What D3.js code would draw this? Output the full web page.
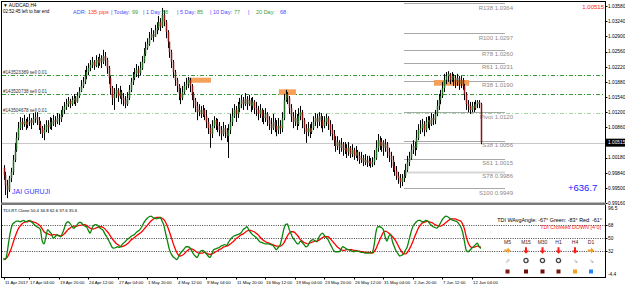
<!DOCTYPE html>
<meta charset="utf-8">
<title>AUDCAD,H4</title>
<style>

body {
  margin: 0;
  background: #fff;
}

svg {
  display: block;
  font-family: "Liberation Sans", Arial, sans-serif;
}

</style>
<body>
<script src="https://d3js.org/d3.v7.min.js"></script>
<script>

// ---- data ----
var firstOpen = 0.9995;

var closes = [
  0.9979, 0.9956, 0.9945, 0.9972, 0.9986, 1.0013, 1.0035, 1.0062, 1.0084, 1.0098,
  1.0093, 1.0100, 1.0091, 1.0098, 1.0102, 1.0096, 1.0105, 1.0109, 1.0102, 1.0093, 1.0084, 1.0073, 1.0080, 1.0091, 1.0087, 1.0098,
  1.0093, 1.0102, 1.0098, 1.0107, 1.0105, 1.0114, 1.0125, 1.0132, 1.0138, 1.0145, 1.0138, 1.0147, 1.0152, 1.0143, 1.0156, 1.0167,
  1.0179, 1.0188, 1.0201, 1.0210, 1.0219, 1.0226, 1.0233, 1.0224, 1.0237, 1.0230, 1.0242, 1.0233, 1.0246, 1.0237, 1.0219, 1.0197,
  1.0174, 1.0152, 1.0161, 1.0170, 1.0156, 1.0165, 1.0152, 1.0147, 1.0138, 1.0152, 1.0170, 1.0188, 1.0197, 1.0206, 1.0215, 1.0208,
  1.0219, 1.0233, 1.0251, 1.0264, 1.0273, 1.0286, 1.0295, 1.0289, 1.0304, 1.0309, 1.0322, 1.0313, 1.0338, 1.0322, 1.0300, 1.0278,
  1.0255, 1.0233, 1.0210, 1.0192, 1.0179, 1.0161, 1.0152, 1.0165, 1.0179, 1.0183, 1.0192, 1.0179, 1.0161, 1.0147, 1.0134, 1.0120,
  1.0125, 1.0116, 1.0125, 1.0111, 1.0098, 1.0084, 1.0071, 1.0089, 1.0102, 1.0093, 1.0089, 1.0080, 1.0071, 1.0084, 1.0075, 1.0066,
  1.0080, 1.0098, 1.0111, 1.0125, 1.0116, 1.0129, 1.0138, 1.0147, 1.0138, 1.0150, 1.0138, 1.0147, 1.0134, 1.0143, 1.0129, 1.0125,
  1.0116, 1.0125, 1.0111, 1.0107, 1.0116, 1.0102, 1.0093, 1.0084, 1.0098, 1.0089, 1.0080, 1.0089, 1.0084, 1.0107, 1.0147, 1.0161,
  1.0152, 1.0129, 1.0111, 1.0098, 1.0107, 1.0093, 1.0111, 1.0120, 1.0102, 1.0084, 1.0075, 1.0084, 1.0075, 1.0084, 1.0098, 1.0107,
  1.0098, 1.0111, 1.0102, 1.0089, 1.0098, 1.0107, 1.0093, 1.0080, 1.0071, 1.0057, 1.0044, 1.0053, 1.0040, 1.0048, 1.0035, 1.0040,
  1.0031, 1.0040, 1.0026, 1.0035, 1.0022, 1.0031, 1.0022, 1.0013, 1.0017, 1.0008, 1.0013, 1.0006, 1.0010, 1.0004, 1.0008, 1.0017,
  1.0040, 1.0057, 1.0044, 1.0053, 1.0040, 1.0048, 1.0031, 1.0022, 1.0013, 0.9999, 0.9990, 0.9977, 0.9972, 0.9963, 0.9972, 0.9977,
  0.9990, 1.0008, 1.0017, 1.0035, 1.0044, 1.0040, 1.0062, 1.0080, 1.0084, 1.0093, 1.0080, 1.0098, 1.0102, 1.0093, 1.0107, 1.0102,
  1.0116, 1.0134, 1.0147, 1.0156, 1.0174, 1.0192, 1.0201, 1.0206, 1.0192, 1.0201, 1.0197, 1.0188, 1.0197, 1.0183, 1.0192, 1.0179,
  1.0161, 1.0138, 1.0134, 1.0125, 1.0134, 1.0129, 1.0138, 1.0143, 1.0138, 1.00515
];

var highs = [
  1.0001, 0.9986, 0.9968, 0.9977, 0.9995, 1.0024, 1.0051, 1.0075, 1.0098, 1.0109,
  1.0107, 1.0114, 1.0105, 1.0109, 1.0116, 1.0107, 1.0118, 1.0120, 1.0120, 1.0109, 1.0100, 1.0089, 1.0093, 1.0102, 1.0102, 1.0109,
  1.0107, 1.0114, 1.0111, 1.0118, 1.0116, 1.0125, 1.0134, 1.0143, 1.0150, 1.0154, 1.0150, 1.0156, 1.0161, 1.0156, 1.0165, 1.0176,
  1.0192, 1.0199, 1.0215, 1.0224, 1.0230, 1.0237, 1.0244, 1.0237, 1.0248, 1.0244, 1.0251, 1.0248, 1.0260, 1.0255, 1.0242, 1.0224,
  1.0201, 1.0179, 1.0174, 1.0183, 1.0174, 1.0179, 1.0170, 1.0163, 1.0156, 1.0165, 1.0181, 1.0197, 1.0210, 1.0219, 1.0228, 1.0224,
  1.0233, 1.0246, 1.0264, 1.0278, 1.0286, 1.0300, 1.0309, 1.0304, 1.0316, 1.0322, 1.0336, 1.0331, 1.0354, 1.0349, 1.0327, 1.0304,
  1.0273, 1.0260, 1.0237, 1.0215, 1.0197, 1.0183, 1.0174, 1.0179, 1.0188, 1.0197, 1.0199, 1.0197, 1.0183, 1.0165, 1.0152, 1.0143,
  1.0138, 1.0134, 1.0136, 1.0129, 1.0125, 1.0107, 1.0093, 1.0102, 1.0111, 1.0107, 1.0105, 1.0098, 1.0089, 1.0098, 1.0091, 1.0084,
  1.0093, 1.0116, 1.0129, 1.0138, 1.0134, 1.0143, 1.0152, 1.0159, 1.0154, 1.0163, 1.0156, 1.0159, 1.0152, 1.0154, 1.0147, 1.0143,
  1.0134, 1.0138, 1.0129, 1.0125, 1.0129, 1.0120, 1.0111, 1.0107, 1.0116, 1.0107, 1.0102, 1.0107, 1.0102, 1.0120, 1.0161, 1.0170,
  1.0165, 1.0156, 1.0138, 1.0120, 1.0125, 1.0116, 1.0129, 1.0134, 1.0125, 1.0107, 1.0093, 1.0098, 1.0093, 1.0098, 1.0111, 1.0118,
  1.0116, 1.0120, 1.0118, 1.0111, 1.0111, 1.0116, 1.0111, 1.0102, 1.0093, 1.0080, 1.0066, 1.0066, 1.0057, 1.0062, 1.0053, 1.0053,
  1.0048, 1.0053, 1.0044, 1.0048, 1.0040, 1.0044, 1.0035, 1.0031, 1.0031, 1.0024, 1.0026, 1.0022, 1.0022, 1.0017, 1.0019, 1.0035,
  1.0057, 1.0071, 1.0066, 1.0062, 1.0057, 1.0060, 1.0053, 1.0040, 1.0031, 1.0022, 1.0008, 0.9999, 0.9986, 0.9981, 0.9981, 0.9990,
  1.0004, 1.0022, 1.0031, 1.0048, 1.0057, 1.0053, 1.0080, 1.0093, 1.0102, 1.0105, 1.0100, 1.0109, 1.0111, 1.0111, 1.0118, 1.0116,
  1.0125, 1.0147, 1.0161, 1.0170, 1.0188, 1.0206, 1.0210, 1.0212, 1.0208, 1.0210, 1.0206, 1.0203, 1.0206, 1.0201, 1.0201, 1.0197,
  1.0183, 1.0165, 1.0147, 1.0143, 1.0143, 1.0143, 1.0147, 1.0147, 1.0147, 1.0141
];

var lows = [
  0.9968, 0.9934, 0.9927, 0.9941, 0.9963, 0.9979, 1.0008, 1.0031, 1.0057, 1.0080,
  1.0080, 1.0087, 1.0080, 1.0084, 1.0089, 1.0082, 1.0091, 1.0096, 1.0091, 1.0080, 1.0071, 1.0062, 1.0057, 1.0075, 1.0073, 1.0082,
  1.0080, 1.0089, 1.0087, 1.0093, 1.0091, 1.0098, 1.0109, 1.0116, 1.0125, 1.0132, 1.0129, 1.0134, 1.0138, 1.0134, 1.0141, 1.0152,
  1.0165, 1.0174, 1.0183, 1.0194, 1.0203, 1.0212, 1.0219, 1.0215, 1.0221, 1.0219, 1.0224, 1.0219, 1.0228, 1.0224, 1.0206, 1.0183,
  1.0159, 1.0136, 1.0125, 1.0152, 1.0143, 1.0150, 1.0138, 1.0134, 1.0129, 1.0134, 1.0147, 1.0165, 1.0181, 1.0192, 1.0199, 1.0197,
  1.0203, 1.0215, 1.0230, 1.0246, 1.0260, 1.0269, 1.0282, 1.0278, 1.0291, 1.0295, 1.0304, 1.0302, 1.0309, 1.0313, 1.0286, 1.0264,
  1.0242, 1.0219, 1.0197, 1.0179, 1.0165, 1.0147, 1.0138, 1.0147, 1.0161, 1.0170, 1.0174, 1.0165, 1.0147, 1.0129, 1.0120, 1.0102,
  1.0111, 1.0107, 1.0109, 1.0102, 1.0084, 1.0071, 1.0040, 1.0062, 1.0084, 1.0080, 1.0075, 1.0066, 1.0057, 1.0066, 1.0062, 1.0053,
  1.0017, 1.0071, 1.0089, 1.0107, 1.0098, 1.0107, 1.0120, 1.0129, 1.0125, 1.0134, 1.0125, 1.0134, 1.0120, 1.0125, 1.0116, 1.0111,
  1.0102, 1.0107, 1.0098, 1.0093, 1.0098, 1.0089, 1.0080, 1.0071, 1.0080, 1.0075, 1.0066, 1.0071, 1.0071, 1.0075, 1.0102, 1.0143,
  1.0138, 1.0116, 1.0098, 1.0084, 1.0089, 1.0080, 1.0089, 1.0102, 1.0084, 1.0071, 1.0051, 1.0066, 1.0062, 1.0071, 1.0080, 1.0089,
  1.0084, 1.0089, 1.0084, 1.0075, 1.0084, 1.0089, 1.0080, 1.0066, 1.0057, 1.0044, 1.0031, 1.0035, 1.0026, 1.0031, 1.0022, 1.0026,
  1.0017, 1.0022, 1.0017, 1.0019, 1.0013, 1.0017, 1.0010, 1.0004, 1.0006, 0.9999, 1.0001, 0.9997, 0.9999, 0.9995, 0.9997, 1.0001,
  1.0013, 1.0031, 1.0035, 1.0031, 1.0022, 1.0031, 1.0017, 1.0008, 0.9995, 0.9986, 0.9977, 0.9968, 0.9959, 0.9950, 0.9954, 0.9963,
  0.9972, 0.9986, 0.9999, 1.0013, 1.0026, 1.0022, 1.0035, 1.0057, 1.0071, 1.0075, 1.0066, 1.0075, 1.0084, 1.0080, 1.0089, 1.0091,
  1.0093, 1.0111, 1.0125, 1.0138, 1.0152, 1.0165, 1.0183, 1.0188, 1.0183, 1.0188, 1.0179, 1.0174, 1.0179, 1.0170, 1.0174, 1.0170,
  1.0147, 1.0125, 1.0120, 1.0116, 1.0120, 1.0120, 1.0125, 1.0129, 1.0129, 1.0048
];

// TDI price line (green) and signal line (red)
var tdiGreen = [
  22, 20, 30, 48, 62, 70, 72, 74, 74, 73,
  74, 75, 73, 74, 75, 73, 71, 68, 66, 65,
  62, 46, 42, 52, 62, 59, 56, 50, 52, 55,
  53, 52, 57, 64, 71, 73, 71, 67, 64, 66,
  69, 72, 72, 69, 67, 66, 61, 57, 64, 68,
  69, 68, 65, 63, 61, 56, 52, 47, 42, 37,
  36, 37, 38, 37, 40, 43, 45, 48, 50, 52,
  54, 55, 58, 60, 62, 66, 71, 75, 78, 80,
  81, 79, 78, 77, 78, 79, 74, 68, 56, 45,
  34, 28, 24, 22, 20, 24, 29, 32, 35, 38,
  38, 37, 33, 28, 25, 23, 28, 32, 33, 31,
  28, 25, 23, 28, 34, 35, 36, 37, 39, 40,
  41, 40, 44, 48, 51, 53, 54, 55, 56, 58,
  62, 64, 66, 62, 58, 55, 53, 51, 48, 45,
  44, 43, 42, 42, 42, 41, 40, 37, 34, 37,
  40, 50, 62, 69, 70, 62, 56, 50, 47, 43,
  42, 46, 44, 41, 38, 39, 44, 47, 48, 46,
  45, 51, 55, 57, 54, 51, 48, 43, 38, 33,
  31, 31, 31, 34, 38, 37, 35, 34, 33, 32,
  31, 32, 32, 31, 30, 30, 29, 29, 29, 29,
  30, 40, 58, 66, 66, 65, 62, 52, 46, 53,
  55, 45, 38, 32, 28, 25, 26, 28, 33, 38,
  48, 58, 66, 70, 73, 75, 75, 73, 73, 75,
  74, 71, 68, 66, 65, 64, 67, 71, 76, 79,
  81, 80, 78, 76, 75, 74, 73, 70, 66, 59,
  46, 33, 31, 33, 36, 38, 41, 43, 38, 35.6
];

var tdiRed = [
  20, 21, 23, 28, 34, 42, 50, 57, 63, 67,
  70, 72, 73, 73, 74, 74, 73, 72, 71, 69,
  67, 63, 59, 57, 56, 55, 54, 55, 55, 54,
  54, 53, 54, 56, 59, 62, 64, 66, 67, 67,
  67, 68, 68, 69, 69, 68, 66, 64, 63, 63,
  64, 65, 66, 66, 65, 63, 60, 57, 53, 49,
  46, 43, 41, 39, 38, 39, 40, 42, 44, 47,
  49, 51, 53, 55, 57, 59, 62, 65, 68, 71,
  74, 76, 78, 79, 79, 79, 78, 76, 72, 66,
  59, 51, 43, 36, 30, 26, 25, 26, 28, 31,
  33, 35, 35, 34, 32, 30, 29, 29, 29, 30,
  29, 28, 27, 28, 29, 31, 32, 34, 35, 37,
  38, 39, 40, 42, 44, 46, 49, 51, 53, 55,
  56, 58, 60, 61, 61, 60, 59, 57, 55, 52,
  49, 47, 45, 44, 43, 42, 41, 40, 39, 39,
  39, 40, 43, 48, 53, 57, 59, 59, 58, 55,
  52, 48, 46, 44, 43, 42, 43, 44, 45, 46,
  46, 47, 49, 51, 52, 52, 52, 50, 47, 44,
  41, 38, 36, 34, 33, 33, 34, 34, 34, 34,
  33, 33, 32, 32, 31, 31, 30, 30, 30, 30,
  29, 31, 35, 41, 47, 53, 58, 60, 59, 57,
  55, 52, 49, 45, 40, 35, 31, 28, 28, 30,
  34, 39, 45, 52, 58, 64, 68, 71, 72, 73,
  74, 73, 72, 71, 69, 68, 67, 67, 68, 70,
  72, 74, 76, 77, 77, 77, 76, 75, 74, 70,
  63, 52, 44, 39, 37, 37, 38, 39, 38, 37.6
];

var timeTickBars = [0, 14, 30, 46, 62, 78, 94, 110, 126, 142, 158, 174, 190, 206, 222, 238, 254];
var timeTickLabels = ["11 Apr 2017", "17 Apr 04:00", "19 Apr 20:00", "24 Apr 12:00", "27 Apr 04:00",
  "1 May 20:00", "4 May 12:00", "9 May 04:00", "11 May 20:00", "16 May 12:00", "19 May 04:00",
  "23 May 20:00", "26 May 12:00", "31 May 04:00", "2 Jun 20:00", "7 Jun 12:00", "12 Jun 04:00"];

var priceTicks = [1.0358, 1.0324, 1.0290, 1.0256, 1.0222, 1.0188, 1.0154, 1.0120, 1.0086, 1.0052, 1.0018, 0.9984, 0.9950, 0.9916];
var bid = 1.00515;

var pivotNames = ["R138", "R100", "R78", "R61", "R38", "Pivot", "S38", "S61", "S78", "S100"];
var pivotLevels = [1.0364, 1.0297, 1.0260, 1.0231, 1.0190, 1.0120, 1.0056, 1.0015, 0.9986, 0.9949];

var orderTickets = ["#143523389", "#143520738", "#143504678"];
var orderPrices = [1.02034, 1.01601, 1.01174];

var zoneFrom = [100, 149.4, 233.5];
var zoneTo = [112.5, 158.6, 252.5];
var zoneTop = [1.01974, 1.01713, 1.01922];
var zoneBottom = [1.01861, 1.01585, 1.01794];

var tdiLevels = [68, 50, 32];
var tdiAxis = [96.5, 68, 50, 32, -4.4];

var adrParts = ["ADR:", "135 pips", "| Today:", "99", "| 1 Day:", "88", "| 5 Day:", "85", "| 10 Day:", "77", "|", "20 Day:", "68"];
var timeframes = ["M5", "M15", "M30", "H1", "H4", "D1"];
var tfArrow = ["right", "down", "down", "down", "down", "right"];
var tfState = ["up", "ring", "ring", "ring", "down", "down"];
var tfSquare = ["#7a1a12", "#6e1010", "#6e1010", "#6e1a10", "#f5a020", "#2288ee"];

// ---- chart ----
var w = 625, h = 286;

var svg = d3.select("body").append("svg")
    .attr("width", w)
    .attr("height", h);

var x = d3.scaleLinear().domain([0, closes.length - 1]).range([3.5, 481]);
var y = d3.scaleLinear().domain([0.99228, 1.03718]).range([200, 0]);
var t = d3.scaleLinear().domain([-4.4, 96.5]).range([277, 205]);

var bars = closes.map(function(c, i) {
  var o = i ? closes[i - 1] : firstOpen;
  return {i: i, o: o, c: c, h: Math.max(highs[i], o, c), l: Math.min(lows[i], o, c)};
});

svg.append("clipPath").attr("id", "main")
  .append("rect").attr("x", 2).attr("y", 2).attr("width", 603).attr("height", 200);

var main = svg.append("g").attr("clip-path", "url(#main)");

// bid line
main.append("line")
    .attr("x1", 2).attr("x2", 605)
    .attr("y1", Math.round(y(bid)) + 0.5).attr("y2", Math.round(y(bid)) + 0.5)
    .style("stroke", "#c8c8c8");

// pivot levels
main.selectAll(".pivot")
    .data(pivotLevels)
  .enter().append("line")
    .attr("x1", 404).attr("x2", 505)
    .attr("y1", function(d) { return Math.round(y(d)) + 0.5; })
    .attr("y2", function(d) { return Math.round(y(d)) + 0.5; })
    .style("stroke", function(d, i) { return pivotNames[i] == "S78" ? "#d6d6d6" : "#a8a8a8"; })
    .style("stroke-width", function(d, i) { return pivotNames[i] == "S78" ? 2 : 1; });

main.selectAll(".pivotlabel")
    .data(pivotLevels)
  .enter().append("text")
    .attr("x", 513)
    .attr("y", function(d) { return y(d) + 6.5; })
    .attr("text-anchor", "end")
    .style("font-size", "6px")
    .style("fill", "#8a8a8a")
    .text(function(d, i) { return pivotNames[i] + " " + d.toFixed(4); });

// order lines
main.selectAll(".order")
    .data(orderPrices)
  .enter().append("line")
    .attr("x1", 2).attr("x2", 605)
    .attr("y1", function(d) { return Math.round(y(d)) + 0.5; })
    .attr("y2", function(d) { return Math.round(y(d)) + 0.5; })
    .style("stroke", function(d, i) { return i < 2 ? "#3a9a3a" : "#9fd89f"; })
    .style("stroke-dasharray", "4,2,1,2");

main.selectAll(".orderlabel")
    .data(orderPrices)
  .enter().append("text")
    .attr("x", 3)
    .attr("y", function(d) { return y(d) - 1.5; })
    .style("font-size", "4.6px")
    .style("fill", "#333")
    .text(function(d, i) { return orderTickets[i] + " sell 0.01"; });

// zones
main.selectAll(".zone")
    .data(zoneFrom)
  .enter().append("rect")
    .attr("x", function(d) { return x(d); })
    .attr("width", function(d, i) { return x(zoneTo[i]) - x(d); })
    .attr("y", function(d, i) { return y(zoneTop[i]); })
    .attr("height", function(d, i) { return y(zoneBottom[i]) - y(zoneTop[i]); })
    .style("fill", "#f4a058");

// candles
var candle = main.selectAll(".bar")
    .data(bars)
  .enter().append("g");

candle.append("line")
    .attr("x1", function(d) { return Math.round(x(d.i)) + 0.5; })
    .attr("x2", function(d) { return Math.round(x(d.i)) + 0.5; })
    .attr("y1", function(d) { return y(d.h); })
    .attr("y2", function(d) { return y(d.l); })
    .style("stroke", "#000");

candle.append("rect")
    .attr("x", function(d) { return Math.round(x(d.i)) - 0.25; })
    .attr("width", 1.5)
    .attr("y", function(d) { return y(Math.max(d.o, d.c)); })
    .attr("height", function(d) { return Math.max(0.8, Math.abs(y(d.o) - y(d.c))); })
    .style("fill", function(d) { return d.c >= d.o ? "#226b22" : "#8b1414"; });

// texts in main pane
svg.append("text").attr("x", 3).attr("y", 6.5)
    .style("font-size", "4.8px").text("\u25BC AUDCAD,H4");
svg.append("text").attr("x", 3).attr("y", 12.5)
    .style("font-size", "4.5px").text("02:52:45 left to bar end");

var adrX = [73, 88, 111, 132, 143, 162, 177, 197, 210, 234, 248, 256, 280];
svg.selectAll(".adr")
    .data(adrParts)
  .enter().append("text")
    .attr("x", function(d, i) { return adrX[i]; })
    .attr("y", 13.5)
    .style("font-size", "5.5px")
    .style("fill", function(d, i) { return i == 1 ? "#ff3030" : i % 2 ? "#3c9a3c" : "#4a4aff"; })
    .text(function(d) { return d; });

svg.append("text").attr("x", 604).attr("y", 8.5)
    .attr("text-anchor", "end")
    .style("font-size", "6px").style("fill", "#ff2020")
    .text(bid.toFixed(5));

svg.append("text").attr("x", 12).attr("y", 194)
    .style("font-size", "7px").style("fill", "#3a3aff")
    .text("JAI GURUJI");

svg.append("text").attr("x", 568).attr("y", 191)
    .style("font-size", "9.5px").style("fill", "#1a1aff")
    .text("+636.7");

// price axis
svg.selectAll(".ptick")
    .data(priceTicks)
  .enter().append("line")
    .attr("x1", 605).attr("x2", 607.5)
    .attr("y1", function(d) { return Math.round(y(d)) + 0.5; })
    .attr("y2", function(d) { return Math.round(y(d)) + 0.5; })
    .style("stroke", "#000");

svg.selectAll(".plabel")
    .data(priceTicks)
  .enter().append("text")
    .attr("x", 608)
    .attr("y", function(d) { return y(d) + 1.8; })
    .style("font-size", "4.8px")
    .text(function(d) { return d.toFixed(5); });

svg.append("rect")
    .attr("x", 606).attr("y", y(bid) - 4).attr("width", 19).attr("height", 8)
    .style("fill", "#000");
svg.append("text").attr("x", 608).attr("y", y(bid) + 1.8)
    .style("font-size", "4.8px").style("fill", "#fff")
    .text(bid.toFixed(5));

// ---- TDI pane ----
svg.append("text").attr("x", 3).attr("y", 211.5)
    .style("font-size", "4.3px")
    .text("TDI-RT-Clone 50.4 34.8 62.6 37.6 35.6");

svg.selectAll(".level")
    .data(tdiLevels)
  .enter().append("line")
    .attr("x1", 2).attr("x2", 605)
    .attr("y1", function(d) { return Math.round(t(d)) + 0.5; })
    .attr("y2", function(d) { return Math.round(t(d)) + 0.5; })
    .style("stroke", "#444")
    .style("stroke-dasharray", "1,1.3");

var line = d3.line()
    .x(function(d, i) { return x(i); })
    .y(function(d) { return t(d); })
    .curve(d3.curveMonotoneX);

svg.append("path").datum(tdiRed)
    .attr("d", line)
    .style("fill", "none").style("stroke", "#ff0000").style("stroke-width", 1.3);

svg.append("path").datum(tdiGreen)
    .attr("d", line)
    .style("fill", "none").style("stroke", "#0b860b").style("stroke-width", 1.3);

svg.selectAll(".tlabel")
    .data(tdiAxis)
  .enter().append("text")
    .attr("x", 608)
    .attr("y", function(d, i) { return t(d) + (i == 0 ? 4.5 : i == tdiAxis.length - 1 ? -1 : 1.8); })
    .style("font-size", "4.8px")
    .text(function(d) { return d; });

svg.selectAll(".ttick")
    .data(tdiLevels)
  .enter().append("line")
    .attr("x1", 605).attr("x2", 607.5)
    .attr("y1", function(d) { return Math.round(t(d)) + 0.5; })
    .attr("y2", function(d) { return Math.round(t(d)) + 0.5; })
    .style("stroke", "#000");

svg.append("text").attr("x", 602).attr("y", 222)
    .attr("text-anchor", "end").style("font-size", "5.4px")
    .text("TDI WAvgAngle: -67\u00B0  Green: -83\u00B0  Red: -61\u00B0");
svg.append("text").attr("x", 601).attr("y", 229)
    .attr("text-anchor", "end").style("font-size", "5.4px").style("fill", "#ff2020")
    .text("TDI Crossed DOWN [4 0]");

var tfX = [507.5, 526, 542.5, 558.5, 575, 591];
var panel = svg.selectAll(".tf")
    .data(timeframes)
  .enter().append("g")
    .attr("transform", function(d, i) { return "translate(" + tfX[i] + ",0)"; });

panel.append("text")
    .attr("y", 243.5)
    .attr("text-anchor", "middle")
    .style("font-size", "5px").style("fill", "#4a1c1c")
    .text(function(d) { return d; });

panel.append("path")
    .attr("transform", function(d, i) { return "translate(0,250.5)" + (tfArrow[i] == "right" ? " rotate(-90)" : ""); })
    .attr("d", "M-1,-3.2H1V0H3L0,3.2L-3,0H-1Z")
    .style("fill", function(d, i) { return tfArrow[i] == "right" ? "#f5a020" : "#ff1a1a"; });

panel.filter(function(d, i) { return tfState[i] == "ring"; })
  .append("circle")
    .attr("cy", 260.5).attr("r", 2.1)
    .style("fill", "none").style("stroke", "#444").style("stroke-width", 1.3);

panel.filter(function(d, i) { return tfState[i] != "ring"; })
  .append("text")
    .attr("y", 262.5)
    .attr("text-anchor", "middle")
    .style("font-size", "6px").style("fill", "#9a9a9a")
    .text(function(d) { return tfState[timeframes.indexOf(d)] == "up" ? "\u21D7" : "\u21D8"; });

panel.append("rect")
    .attr("x", -2).attr("y", 269.5).attr("width", 4).attr("height", 4)
    .style("fill", function(d, i) { return tfSquare[i]; });

// ---- time axis ----
svg.selectAll(".xtick")
    .data(timeTickBars)
  .enter().append("line")
    .attr("x1", function(d) { return Math.round(x(d)) + 0.5; })
    .attr("x2", function(d) { return Math.round(x(d)) + 0.5; })
    .attr("y1", 277).attr("y2", 279.5)
    .style("stroke", "#000");

svg.selectAll(".xlabel")
    .data(timeTickBars)
  .enter().append("text")
    .attr("x", function(d) { return Math.round(x(d)) + 1; })
    .attr("y", 283.5)
    .style("font-size", "4.3px")
    .text(function(d, i) { return timeTickLabels[i]; });

// ---- frame ----
var frame = svg.append("g").style("stroke", "#000").style("shape-rendering", "crispEdges");
frame.append("line").attr("x1", 1.5).attr("x2", 1.5).attr("y1", 1).attr("y2", 277.5);
frame.append("line").attr("x1", 1).attr("x2", 605.5).attr("y1", 1.5).attr("y2", 1.5);
frame.append("line").attr("x1", 605.5).attr("x2", 605.5).attr("y1", 1).attr("y2", 277.5);
frame.append("line").attr("x1", 1).attr("x2", 605.5).attr("y1", 277.5).attr("y2", 277.5);
svg.append("rect").attr("x", 1).attr("y", 202.5).attr("width", 605).attr("height", 2.5)
    .style("fill", "#7a7a7a");

</script>
